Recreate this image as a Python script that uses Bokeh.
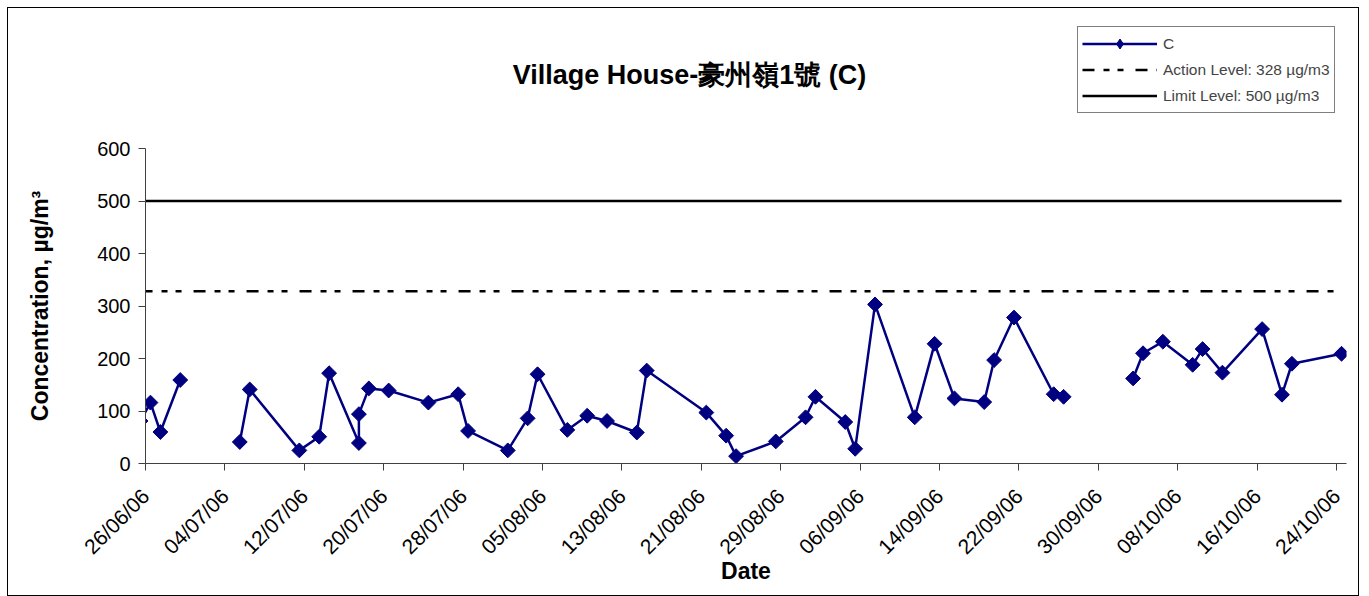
import math
from datetime import datetime
import numpy as np
from bokeh.plotting import figure
from bokeh.layouts import column
from bokeh.models import Range1d, FixedTicker, Label, Legend, LegendItem, ColumnDataSource
from bokeh.embed import file_html
from bokeh.resources import INLINE

# ---------------- data ----------------
title_text = "Village House-豪州嶺1號 (C)"
series_name = "C"
action_name = "Action Level: 328 µg/m3"
limit_name = "Limit Level: 500 µg/m3"
action_level = 328
limit_level = 500

dates = [
    "2006-06-25", "2006-06-26", "2006-06-27", "2006-06-29", "2006-07-02",
    "2006-07-05", "2006-07-06", "2006-07-11", "2006-07-13", "2006-07-14",
    "2006-07-17", "2006-07-17", "2006-07-18", "2006-07-20", "2006-07-24",
    "2006-07-27", "2006-07-28", "2006-08-01", "2006-08-03", "2006-08-04",
    "2006-08-07", "2006-08-09", "2006-08-11", "2006-08-14", "2006-08-15",
    "2006-08-21", "2006-08-23", "2006-08-24", "2006-08-28", "2006-08-31",
    "2006-09-01", "2006-09-04", "2006-09-05", "2006-09-07", "2006-09-11",
    "2006-09-13", "2006-09-15", "2006-09-18", "2006-09-19", "2006-09-21",
    "2006-09-25", "2006-09-26", "2006-09-29", "2006-10-03", "2006-10-04",
    "2006-10-06", "2006-10-09", "2006-10-10", "2006-10-12", "2006-10-16",
    "2006-10-18", "2006-10-19", "2006-10-24",
]
conc = [
    81, 116, 60, 159, None,
    41, 141, 25, 51, 172,
    39, 94, 143, 139, 116,
    132, 62, 25, 86, 170,
    64, 91, 81, 59, 177,
    97, 53, 14, 42, 88,
    127, 79, 28, 303, 88,
    228, 124, 117, 197, 278,
    132, 127, None, 162, 210,
    232, 188, 218, 173, 256,
    131, 190, 209,
]
tick_labels = [
    "26/06/06", "04/07/06", "12/07/06", "20/07/06", "28/07/06", "05/08/06",
    "13/08/06", "21/08/06", "29/08/06", "06/09/06", "14/09/06", "22/09/06",
    "30/09/06", "08/10/06", "16/10/06", "24/10/06",
]
y_ticks = [0, 100, 200, 300, 400, 500, 600]

# ---------------- derived ----------------
base = datetime.strptime(tick_labels[0], "%d/%m/%y")
tick_pos = [(datetime.strptime(t, "%d/%m/%y") - base).days for t in tick_labels]
# each day's point sits in the middle of its day slot (Excel date axis)
xs = np.array([(datetime.strptime(d, "%Y-%m-%d") - base).days for d in dates], float) + 0.5
ys = np.array([np.nan if v is None else v for v in conc], float)
src = ColumnDataSource(dict(x=xs, y=ys))
lvl = ColumnDataSource(dict(x=[xs[0], xs[-1]],
                            act=[action_level, action_level],
                            lim=[limit_level, limit_level]))

FONT = "Liberation Sans"
NAVY = "#000080"
DASH = "12 9 6 8 6 12"

def add_series(fig, marker, size, angle):
    lr = fig.line("x", "y", source=src, line_color=NAVY, line_width=2.5)
    sr = fig.scatter("x", "y", source=src, marker=marker, size=size,
                     angle=angle, fill_color=NAVY, line_color=NAVY)
    ar = fig.line("x", "act", source=lvl, line_color="black", line_width=2.5,
                  line_dash=DASH)
    mr = fig.line("x", "lim", source=lvl, line_color="black", line_width=2.5)
    return lr, sr, ar, mr

# ---------------- main chart ----------------
p = figure(
    width=1350, height=459,
    output_backend="svg", toolbar_location=None,
    x_range=Range1d(tick_pos[0], tick_pos[-1] + 1),
    y_range=Range1d(y_ticks[0], y_ticks[-1]),
    min_border_left=137, min_border_right=12,
    min_border_top=12, min_border_bottom=132,
)
p.grid.visible = False
p.outline_line_color = None
p.background_fill_color = "white"
p.border_fill_color = "white"
add_series(p, "square", 10.5, math.pi / 4)

for ax in (p.xaxis[0], p.yaxis[0]):
    ax.axis_line_color = "#404040"
    ax.major_tick_line_color = "#404040"
    ax.minor_tick_line_color = None
    ax.major_tick_out = 7
    ax.major_tick_in = 0
    ax.major_label_text_font = FONT
    ax.major_label_text_color = "black"
    ax.axis_label_text_font = FONT
    ax.axis_label_text_font_style = "bold"
    ax.axis_label_text_font_size = "23px"
    ax.axis_label_text_color = "black"

p.xaxis.ticker = FixedTicker(ticks=tick_pos)
p.xaxis.major_label_overrides = {t: l for t, l in zip(tick_pos, tick_labels)}
p.xaxis.major_label_orientation = math.pi / 4
p.xaxis.major_label_text_font_size = "21px"
p.xaxis.major_label_standoff = 22
p.xaxis.axis_label = "Date"
p.xaxis.axis_label_standoff = -12

p.yaxis.ticker = FixedTicker(ticks=y_ticks)
p.yaxis.major_label_text_font_size = "20px"
p.yaxis.major_label_standoff = 8
p.yaxis.axis_label = "Concentration, µg/m³"
p.yaxis.axis_label_standoff = 41

# ---------------- header strip: title + legend ----------------
# (its frame is aligned with the main chart's frame by the column layout)
top = figure(
    width=1350, height=128,
    output_backend="svg", toolbar_location=None,
    x_range=p.x_range, y_range=Range1d(0, 1),
    min_border=0, x_axis_location=None, y_axis_location=None,
)
top.grid.visible = False
top.outline_line_color = None
top.background_fill_color = "white"
top.border_fill_color = "white"
lr, sr, ar, mr = add_series(top, "diamond", 13, 0)   # off-range here; only feed the legend

top.add_layout(Label(
    x=544, y=62, x_units="screen", y_units="screen",
    text=title_text, text_align="center", text_baseline="middle",
    text_font=FONT, text_font_size="27px",
    text_font_style="bold", text_color="black",
))

legend = Legend(
    items=[
        LegendItem(label=series_name, renderers=[lr, sr]),
        LegendItem(label=action_name, renderers=[ar]),
        LegendItem(label=limit_name, renderers=[mr]),
    ],
    location=(932, 23),
    border_line_color="black", border_line_width=1,
    background_fill_color="white", background_fill_alpha=1,
    padding=4, spacing=1, margin=0,
    glyph_width=75, glyph_height=25, label_height=25, label_standoff=6,
    label_text_font=FONT, label_text_font_size="15.5px",
)
top.add_layout(legend)

layout = column(top, p, spacing=0,
                styles={"border": "1px solid black", "margin-left": "7px",
                        "margin-top": "7px"})

open("out.html", "w").write(file_html(layout, INLINE))
